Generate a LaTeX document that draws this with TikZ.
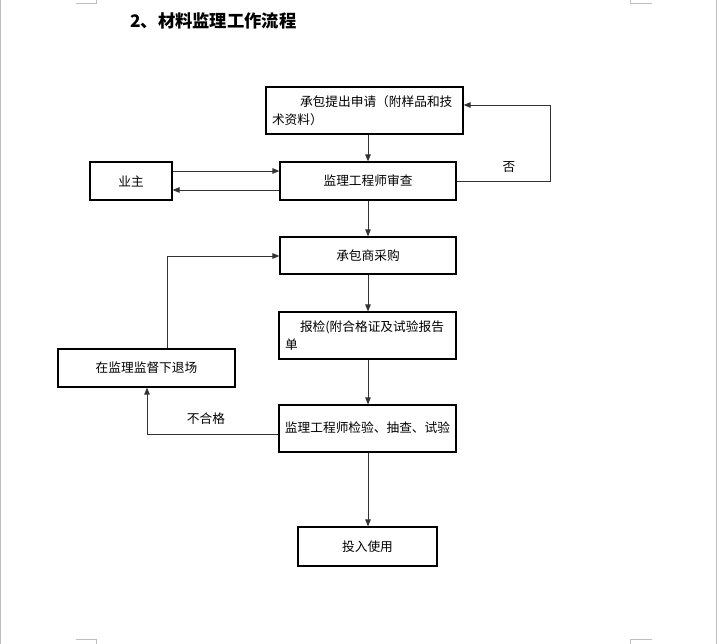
\documentclass[tikz,border=0pt]{standalone}
\usepackage{fontspec}
\setmainfont{Noto Sans CJK SC}
\usetikzlibrary{arrows.meta}
\begin{document}
\begin{tikzpicture}[x=1pt,y=-1pt,
  box/.style={draw=black,line width=1.2pt,rectangle,inner sep=0pt,font=\fontsize{12.7}{17.5}\selectfont},
  flow/.style={draw=black!80,line width=0.9pt,-{Triangle[length=7pt,width=5.5pt]}},
  plain/.style={draw=black!80,line width=0.9pt},
  lbl/.style={font=\fontsize{12.7}{15}\selectfont,inner sep=0pt},
  pagemark/.style={draw=black!25,line width=0.8pt}]
\useasboundingbox (0,0) rectangle (717,644);
% page edges and corner marks
\draw[pagemark] (0.5,0) -- (0.5,644);
\draw[pagemark] (716.5,0) -- (716.5,644);
\draw[pagemark] (76,3) -- (96,3) -- (96,0);
\draw[pagemark] (652,3) -- (630,3) -- (630,0);
\draw[pagemark] (76,639) -- (96,639) -- (96,644);
\draw[pagemark] (652,639) -- (630,639) -- (630,644);
% title
\node[anchor=west,inner sep=0pt,font=\fontsize{17.3}{18}\selectfont\bfseries] (title) at (130,21) {2、材料监理工作流程};
% boxes
\node[box,minimum width=197pt,minimum height=47pt,text width=185pt,align=left] (apply) at (364.5,110.5) {\hspace*{28pt}承包提出申请（附样品和技\\术资料）};
\node[box,minimum width=82pt,minimum height=38pt] (owner) at (131,181) {业主};
\node[box,minimum width=176pt,minimum height=38pt] (review) at (368,181) {监理工程师审查};
\node[box,minimum width=176pt,minimum height=37pt] (buy) at (368,255.5) {承包商采购};
\node[box,minimum width=177pt,minimum height=47pt,text width=165pt,align=left] (report) at (367.5,335.5) {\hspace*{15pt}报检(附合格证及试验报告\\单};
\node[box,minimum width=177pt,minimum height=47pt,text depth=0pt] (inspect) at (367.5,428.5) {};
\node[lbl] (inspecttext) at (367.5,428) {监理工程师检验、抽查、试验};
\node[box,minimum width=177pt,minimum height=38pt] (exit) at (146.5,368) {在监理监督下退场};
\node[box,minimum width=139pt,minimum height=39pt] (use) at (367.5,546.5) {投入使用};
% coordinates
\coordinate (noA) at (550,181);
\coordinate (noB) at (550,105);
\coordinate (retA) at (167,256);
\coordinate (failA) at (147,434);
% connectors
\draw[flow] (apply.south -| 368,0) -- (review.north -| 368,0);
\draw[flow] (owner.east |- 0,171) -- (review.west |- 0,171);
\draw[flow] (review.west |- 0,190) -- (owner.east |- 0,190);
\draw[plain] (review.east) -- (noA) -- (noB);
\draw[flow] (noB) -- (apply.east |- noB);
\node[lbl] (no) at (509,167) {否};
\draw[flow] (review.south -| 368,0) -- (buy.north -| 368,0);
\draw[flow] (buy.south -| 368,0) -- (report.north -| 368,0);
\draw[flow] (report.south -| 368,0) -- (inspect.north -| 368,0);
\draw[flow] (inspect.south -| 368,0) -- (use.north -| 368,0);
\draw[plain] (exit.north -| retA) -- (retA);
\draw[flow] (retA) -- (buy.west |- retA);
\draw[plain] (inspect.west |- failA) -- (failA);
\draw[flow] (failA) -- (exit.south -| failA);
\node[lbl] (fail) at (206,419) {不合格};
\end{tikzpicture}
\end{document}
